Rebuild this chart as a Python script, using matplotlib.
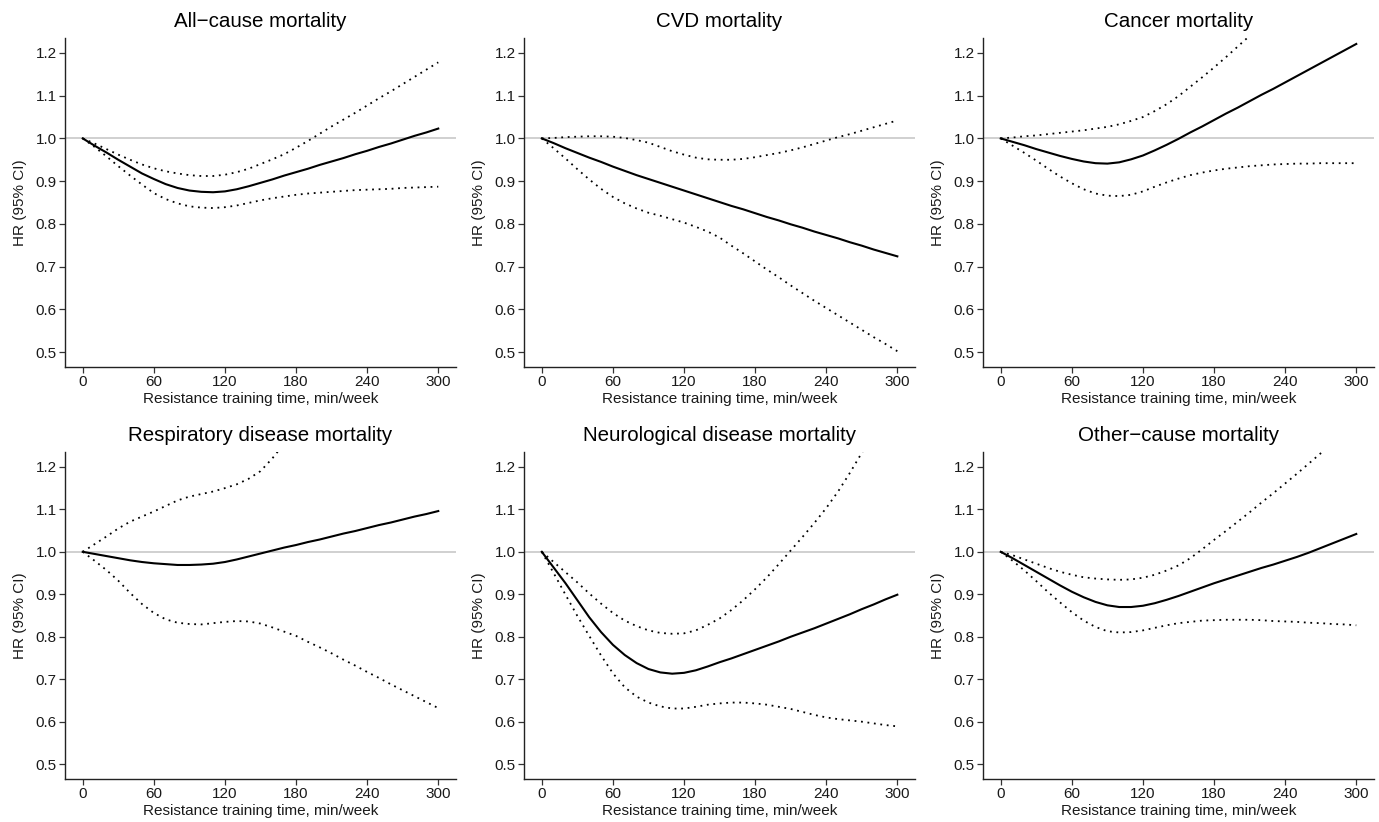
import numpy as np
import matplotlib
matplotlib.use("Agg")
import matplotlib.pyplot as plt

plt.rcParams['font.family'] = ['Liberation Sans', 'DejaVu Sans']

minutes = list(range(0, 301, 10))

titles = ["All\u2212cause mortality", "CVD mortality", "Cancer mortality",
          "Respiratory disease mortality", "Neurological disease mortality", "Other\u2212cause mortality"]

# All-cause
allcause_hr = [1.000, 0.983, 0.967, 0.950, 0.934, 0.918, 0.905, 0.893, 0.884, 0.878, 0.875, 0.874, 0.876, 0.881, 0.888, 0.896,
               0.904, 0.913, 0.921, 0.929, 0.938, 0.946, 0.954, 0.963, 0.971, 0.980, 0.988, 0.997, 1.006, 1.014, 1.023]
allcause_hi = [1.000, 0.988, 0.975, 0.962, 0.950, 0.939, 0.930, 0.923, 0.918, 0.914, 0.912, 0.912, 0.915, 0.921, 0.929, 0.940,
               0.951, 0.963, 0.978, 0.994, 1.011, 1.028, 1.044, 1.060, 1.077, 1.094, 1.110, 1.127, 1.144, 1.161, 1.178]
allcause_lo = [1.000, 0.980, 0.958, 0.935, 0.913, 0.892, 0.872, 0.858, 0.848, 0.841, 0.838, 0.837, 0.839, 0.843, 0.849, 0.855,
               0.860, 0.864, 0.868, 0.871, 0.873, 0.875, 0.877, 0.879, 0.880, 0.881, 0.882, 0.884, 0.885, 0.886, 0.887]

# CVD
cvd_hr = [1.000, 0.989, 0.977, 0.966, 0.955, 0.945, 0.934, 0.924, 0.914, 0.905, 0.896, 0.887, 0.878, 0.869, 0.860, 0.851,
          0.842, 0.834, 0.825, 0.816, 0.808, 0.799, 0.791, 0.782, 0.774, 0.766, 0.757, 0.749, 0.740, 0.732, 0.724]
cvd_hi = [1.000, 1.001, 1.003, 1.004, 1.005, 1.005, 1.004, 1.001, 0.996, 0.990, 0.980, 0.970, 0.962, 0.955, 0.951, 0.950,
          0.950, 0.952, 0.956, 0.961, 0.966, 0.972, 0.979, 0.987, 0.995, 1.003, 1.010, 1.018, 1.026, 1.034, 1.042]
cvd_lo = [1.000, 0.977, 0.953, 0.928, 0.904, 0.882, 0.863, 0.848, 0.836, 0.826, 0.819, 0.811, 0.803, 0.793, 0.782, 0.768,
          0.749, 0.731, 0.712, 0.693, 0.675, 0.656, 0.638, 0.620, 0.603, 0.586, 0.569, 0.552, 0.535, 0.519, 0.502]

# Cancer
cancer_hr = [1.000, 0.992, 0.984, 0.975, 0.967, 0.959, 0.952, 0.946, 0.942, 0.941, 0.944, 0.951, 0.960, 0.972, 0.985, 0.999,
             1.014, 1.028, 1.043, 1.058, 1.072, 1.087, 1.102, 1.116, 1.131, 1.146, 1.161, 1.176, 1.191, 1.206, 1.221]
cancer_hi = [1.000, 1.002, 1.005, 1.007, 1.010, 1.013, 1.016, 1.019, 1.023, 1.027, 1.033, 1.041, 1.050, 1.064, 1.080, 1.099,
             1.121, 1.143, 1.166, 1.190, 1.215, 1.240, 1.266, 1.292, 1.318, 1.345, 1.372, 1.400, 1.430, 1.460, 1.490]
cancer_lo = [1.000, 0.983, 0.966, 0.948, 0.929, 0.911, 0.895, 0.881, 0.871, 0.866, 0.865, 0.868, 0.876, 0.887, 0.897, 0.906,
             0.914, 0.920, 0.925, 0.929, 0.932, 0.935, 0.937, 0.939, 0.940, 0.941, 0.941, 0.942, 0.942, 0.942, 0.942]

# Respiratory
resp_hr = [1.000, 0.995, 0.990, 0.985, 0.980, 0.976, 0.973, 0.971, 0.969, 0.969, 0.970, 0.972, 0.976, 0.982, 0.989, 0.996,
           1.003, 1.010, 1.016, 1.023, 1.029, 1.036, 1.043, 1.049, 1.056, 1.063, 1.069, 1.076, 1.083, 1.089, 1.096]
resp_hi = [1.000, 1.018, 1.036, 1.055, 1.071, 1.083, 1.095, 1.108, 1.121, 1.130, 1.136, 1.142, 1.150, 1.159, 1.172, 1.190,
           1.220, 1.255, 1.290, 1.330, 1.370, 1.410, 1.450, 1.490, 1.530, 1.570, 1.610, 1.650, 1.690, 1.730, 1.770]
resp_lo = [1.000, 0.979, 0.957, 0.932, 0.903, 0.877, 0.856, 0.841, 0.833, 0.830, 0.829, 0.832, 0.835, 0.837, 0.836, 0.831,
           0.822, 0.812, 0.802, 0.788, 0.775, 0.761, 0.746, 0.732, 0.717, 0.703, 0.688, 0.674, 0.660, 0.646, 0.632]

# Neurological
neuro_hr = [1.000, 0.963, 0.926, 0.886, 0.846, 0.811, 0.781, 0.757, 0.738, 0.724, 0.716, 0.713, 0.715, 0.721, 0.730, 0.740,
            0.749, 0.759, 0.769, 0.779, 0.789, 0.800, 0.810, 0.820, 0.831, 0.842, 0.853, 0.865, 0.876, 0.888, 0.899]
neuro_hi = [1.000, 0.976, 0.952, 0.928, 0.902, 0.878, 0.856, 0.838, 0.825, 0.815, 0.809, 0.807, 0.808, 0.815, 0.828, 0.843,
            0.863, 0.886, 0.912, 0.940, 0.971, 1.003, 1.035, 1.068, 1.103, 1.142, 1.186, 1.233, 1.280, 1.330, 1.380]
neuro_lo = [1.000, 0.950, 0.899, 0.849, 0.802, 0.756, 0.714, 0.681, 0.659, 0.645, 0.636, 0.631, 0.631, 0.635, 0.640, 0.643,
            0.645, 0.645, 0.643, 0.640, 0.635, 0.630, 0.623, 0.616, 0.610, 0.606, 0.603, 0.600, 0.596, 0.592, 0.589]

# Other-cause
other_hr = [1.000, 0.985, 0.969, 0.953, 0.937, 0.921, 0.906, 0.893, 0.882, 0.874, 0.870, 0.870, 0.873, 0.879, 0.887, 0.896,
            0.906, 0.916, 0.926, 0.935, 0.944, 0.953, 0.962, 0.970, 0.979, 0.988, 0.998, 1.009, 1.020, 1.031, 1.042]
other_hi = [1.000, 0.992, 0.982, 0.972, 0.962, 0.953, 0.946, 0.940, 0.937, 0.935, 0.934, 0.935, 0.939, 0.946, 0.956, 0.968,
            0.985, 1.006, 1.028, 1.049, 1.071, 1.093, 1.116, 1.138, 1.161, 1.184, 1.208, 1.232, 1.256, 1.280, 1.305]
other_lo = [1.000, 0.979, 0.956, 0.931, 0.905, 0.881, 0.858, 0.838, 0.823, 0.813, 0.810, 0.811, 0.815, 0.821, 0.827, 0.832,
            0.835, 0.838, 0.839, 0.840, 0.840, 0.840, 0.839, 0.837, 0.836, 0.835, 0.833, 0.832, 0.830, 0.829, 0.827]

series = [
    (allcause_hr, allcause_lo, allcause_hi),
    (cvd_hr, cvd_lo, cvd_hi),
    (cancer_hr, cancer_lo, cancer_hi),
    (resp_hr, resp_lo, resp_hi),
    (neuro_hr, neuro_lo, neuro_hi),
    (other_hr, other_lo, other_hi),
]

x_ticks = [0, 60, 120, 180, 240, 300]
y_ticks = [0.5, 0.6, 0.7, 0.8, 0.9, 1.0, 1.1, 1.2]

fig = plt.figure(figsize=(13.79, 8.22), dpi=100)
lefts = [0.0471, 0.380, 0.7128]
width = 0.2836
rows = [(0.5535, 0.4003), (0.0523, 0.3978)]

txt = '#1a1a1a'
for i, (hr, lo, hi) in enumerate(series):
    r, c = divmod(i, 3)
    ax = fig.add_axes([lefts[c], rows[r][0], width, rows[r][1]])
    ax.axhline(1.0, color='#c8c8c8', lw=1.2, zorder=1)
    ax.plot(minutes, hi, color='black', lw=1.3, linestyle=(0, (1, 2.6)), zorder=2)
    ax.plot(minutes, lo, color='black', lw=1.3, linestyle=(0, (1, 2.6)), zorder=2)
    ax.plot(minutes, hr, color='black', lw=1.5, zorder=3)
    ax.set_xlim(-15, 315)
    ax.set_ylim(0.465, 1.235)
    ax.set_xticks(x_ticks)
    ax.set_yticks(y_ticks)
    ax.set_yticklabels([f"{v:.1f}" for v in y_ticks])
    for s in ['top', 'right']:
        ax.spines[s].set_visible(False)
    for s in ['left', 'bottom']:
        ax.spines[s].set_linewidth(1.0)
        ax.spines[s].set_color('#222222')
    ax.tick_params(direction='out', length=4, width=0.9, color='#333333',
                   labelsize=11, labelcolor=txt, pad=2)
    ax.set_title(titles[i], fontsize=14.8, color='black', pad=8)
    ax.set_xlabel("Resistance training time, min/week", fontsize=11, color=txt, labelpad=2)
    ax.set_ylabel("HR (95% CI)", fontsize=11, color=txt, labelpad=6)

fig.savefig("out.png", dpi=100)
